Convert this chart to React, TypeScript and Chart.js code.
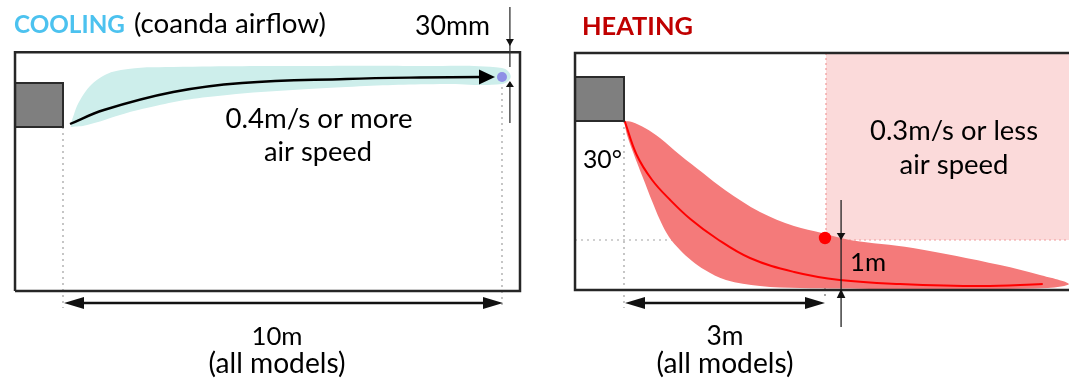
import React, { useEffect, useRef } from "react";
import { Chart, registerables } from "chart.js";

Chart.register(...registerables);

const W = 1069;
const H = 385;

// ---------------- data (metres) ----------------
// Cooling panel: x = distance from the unit outlet, y = height above floor
const coolingPlumeX = [0.18, 0.39, 0.77, 1.32, 2.51, 5.67, 8.02, 10.0, 10.2, 10.0, 8.59, 6.45, 3.3, 1.71, 0.55, 0.18];
const coolingPlumeY = [3.34, 3.8, 4.2, 4.4, 4.46, 4.48, 4.48, 4.44, 4.27, 4.12, 4.12, 4.06, 3.86, 3.6, 3.3, 3.26];
const coolingFlowX = [0.16, 0.93, 2.51, 4.08, 6.45, 8.13, 9.52];
const coolingFlowY = [3.32, 3.6, 3.96, 4.14, 4.22, 4.25, 4.26];
const coolingEndPoint = [{ x: 10.0, y: 4.26 }];
const coolingThrow = 10; // m

// Heating panel
const heatingPlumeX = [0, 0.119, 0.313, 0.537, 0.836, 1.179, 1.507, 2.03, 2.537, 2.955, 3.373, 4.313, 5.612, 6.209, 6.642, 6.328, 5.015, 3.821, 2.627, 2.03, 1.522, 1.209, 1.015, 0.836, 0.672, 0.537, 0.418, 0.284, 0.134, 0.045, 0];
const heatingPlumeY = [3.38, 3.36, 3.24, 3.04, 2.7, 2.34, 2.0, 1.56, 1.28, 1.14, 1.0, 0.84, 0.5, 0.3, 0.12, 0.04, 0.02, 0.02, 0.04, 0.08, 0.2, 0.4, 0.58, 0.8, 1.06, 1.4, 1.78, 2.24, 2.76, 3.1, 3.38];
const heatingFlowX = [0.01, 0.19, 0.42, 0.69, 0.99, 1.37, 1.88, 2.54, 3.22, 4.12, 5.33, 6.25];
const heatingFlowY = [3.38, 2.7, 2.2, 1.8, 1.42, 1.04, 0.64, 0.36, 0.2, 0.12, 0.08, 0.12];
const heatingLimitPoint = [{ x: 3.0, y: 1.04 }];
const heatingThrow = 3; // m
const heatingDrop = 1; // m

// ---------------- layout ----------------
const COOL_ORIGIN_PX = 63;
const COOL_PX_PER_M = 43.9;
const HEAT_ORIGIN_PX = 624;
const HEAT_PX_PER_M = 67;
const FLOOR_PX = 290;
const Y_PX_PER_M = 50;

const coolRoom = { x0: -1.093, x1: 10.41, y0: -0.02, y1: 4.754 };
const heatRoom = { x0: -0.731, x1: 7.5, y0: 0, y1: 4.74 };
const coolUnit = { x0: -1.093, x1: 0, y0: 3.26, y1: 4.14 };
const heatUnit = { x0: -0.731, x1: 0, y0: 3.38, y1: 4.26 };
const slowZone = { x0: 3.015, x1: 7.5, y0: 1.0, y1: 4.74 };

type Pt = { x: number; y: number };
const zip = (xs: number[], ys: number[]): Pt[] => xs.map((x, i) => ({ x, y: ys[i] }));
const rect = (r: { x0: number; x1: number; y0: number; y1: number }): Pt[] => [
  { x: r.x0, y: r.y0 },
  { x: r.x1, y: r.y0 },
  { x: r.x1, y: r.y1 },
  { x: r.x0, y: r.y1 },
  { x: r.x0, y: r.y0 },
];

const FONT = "Lato, 'Open Sans', sans-serif";

type Label = { text: string; x: number; y: number; w: number; align: CanvasTextAlign; bold?: boolean; color?: string };
const labels: Label[] = [
  { text: "COOLING", x: 14, y: 33, w: 111, align: "left", bold: true, color: "#4cc2ef" },
  { text: "(coanda airflow)", x: 134, y: 33, w: 192, align: "left" },
  { text: "30mm", x: 415, y: 35, w: 75, align: "left" },
  { text: "0.4m/s or more", x: 319, y: 128, w: 187, align: "center" },
  { text: "air speed", x: 318, y: 161, w: 108, align: "center" },
  { text: "10m", x: 277, y: 345, w: 51, align: "center" },
  { text: "(all models)", x: 277, y: 373, w: 137, align: "center" },
  { text: "HEATING", x: 582, y: 35, w: 111, align: "left", bold: true, color: "#c00000" },
  { text: "30°", x: 583, y: 168, w: 39, align: "left" },
  { text: "0.3m/s or less", x: 954, y: 140, w: 168, align: "center" },
  { text: "air speed", x: 954, y: 174, w: 109, align: "center" },
  { text: "1m", x: 850, y: 271, w: 36, align: "left" },
  { text: "3m", x: 725, y: 345, w: 37, align: "center" },
  { text: "(all models)", x: 725, y: 373, w: 137, align: "center" },
];

function head(ctx: CanvasRenderingContext2D, tx: number, ty: number, ux: number, uy: number, len: number, hw: number, color: string) {
  const bx = tx - ux * len;
  const by = ty - uy * len;
  ctx.beginPath();
  ctx.moveTo(tx, ty);
  ctx.lineTo(bx - uy * hw, by + ux * hw);
  ctx.lineTo(bx + uy * hw, by - ux * hw);
  ctx.closePath();
  ctx.fillStyle = color;
  ctx.fill();
}

function seg(ctx: CanvasRenderingContext2D, x1: number, y1: number, x2: number, y2: number, w: number, color: string) {
  ctx.beginPath();
  ctx.moveTo(x1, y1);
  ctx.lineTo(x2, y2);
  ctx.lineWidth = w;
  ctx.strokeStyle = color;
  ctx.setLineDash([]);
  ctx.stroke();
}

const overlay = {
  id: "overlay",
  afterDatasetsDraw(chart: any) {
    const ctx: CanvasRenderingContext2D = chart.ctx;
    const xc = chart.scales.xc;
    const xh = chart.scales.xh;
    const y = chart.scales.y;
    ctx.save();

    // cooling flow arrow head
    const cEnd = coolingFlowX.length - 1;
    head(ctx, xc.getPixelForValue(9.84), y.getPixelForValue(coolingFlowY[cEnd]), 1, 0, 16, 7.5, "#000");

    // 30mm marker
    const mx = xc.getPixelForValue(10.18);
    seg(ctx, mx, y.getPixelForValue(5.66), mx, y.getPixelForValue(4.46), 1.3, "#333");
    head(ctx, mx, y.getPixelForValue(4.88), 0, 1, 7, 4, "#111");
    seg(ctx, mx, y.getPixelForValue(4.16), mx, y.getPixelForValue(3.34), 1.3, "#333");
    head(ctx, mx, y.getPixelForValue(4.18), 0, -1, 6, 4, "#111");

    // 10m dimension
    const dy = y.getPixelForValue(-0.26);
    const c0 = xc.getPixelForValue(0) + 1;
    const c1 = xc.getPixelForValue(coolingThrow) + 1;
    seg(ctx, c0 + 10, dy, c1 - 10, dy, 2.6, "#111");
    head(ctx, c0, dy, -1, 0, 20, 6, "#111");
    head(ctx, c1, dy, 1, 0, 20, 6, "#111");

    // 3m dimension
    const h0 = xh.getPixelForValue(0) + 1;
    const h1 = xh.getPixelForValue(heatingThrow);
    seg(ctx, h0 + 10, dy, h1 - 10, dy, 2.6, "#111");
    head(ctx, h0, dy, -1, 0, 20, 6, "#111");
    head(ctx, h1, dy, 1, 0, 20, 6, "#111");

    // 1m drop marker
    const vx = xh.getPixelForValue(3.24);
    seg(ctx, vx, y.getPixelForValue(1.8), vx, y.getPixelForValue(-0.74), 1.3, "#222");
    head(ctx, vx, y.getPixelForValue(heatingDrop), 0, 1, 7, 4.3, "#111");
    head(ctx, vx, y.getPixelForValue(0.02), 0, -1, 9, 4.3, "#111");

    // texts
    ctx.textBaseline = "alphabetic";
    for (const l of labels) {
      const weight = l.bold ? "bold" : "normal";
      ctx.font = `${weight} 100px ${FONT}`;
      const mw = ctx.measureText(l.text).width;
      const size = (100 * l.w) / mw;
      ctx.font = `${weight} ${size.toFixed(2)}px ${FONT}`;
      ctx.textAlign = l.align;
      ctx.fillStyle = l.color || "#000";
      ctx.fillText(l.text, l.x, l.y);
    }
    ctx.restore();
  },
};

const GUIDE = "rgba(150,150,150,0.9)";

export default function App() {
  const ref = useRef<HTMLCanvasElement | null>(null);

  useEffect(() => {
    document.body.style.margin = "0";
    if (!ref.current) return;

    const line = (data: Pt[], axis: string, opts: any) => ({
      type: "line",
      data,
      xAxisID: axis,
      yAxisID: "y",
      showLine: true,
      pointRadius: 0,
      borderWidth: 0,
      fill: false,
      tension: 0,
      ...opts,
    });

    const layers: any[] = [
      // bottom
      line(rect(slowZone), "xh", { fill: "shape", backgroundColor: "#fbdada", borderColor: "rgba(0,0,0,0)" }),
      line(
        [
          { x: slowZone.x0, y: slowZone.y1 },
          { x: slowZone.x0, y: slowZone.y0 },
          { x: slowZone.x1, y: slowZone.y0 },
        ],
        "xh",
        { borderColor: "#f19a9a", borderWidth: 1.2, borderDash: [2, 3] }
      ),
      line([{ x: 0, y: coolUnit.y0 }, { x: 0, y: -0.36 }], "xc", { borderColor: GUIDE, borderWidth: 1.2, borderDash: [2, 4] }),
      line([{ x: coolingThrow, y: 4.06 }, { x: coolingThrow, y: -0.36 }], "xc", { borderColor: GUIDE, borderWidth: 1.2, borderDash: [2, 4] }),
      line([{ x: 0, y: heatUnit.y0 }, { x: 0, y: -0.36 }], "xh", { borderColor: GUIDE, borderWidth: 1.2, borderDash: [2, 4] }),
      line([{ x: heatRoom.x0, y: heatingDrop }, { x: heatingThrow, y: heatingDrop }], "xh", { borderColor: GUIDE, borderWidth: 1.2, borderDash: [2, 4] }),
      line([{ x: heatingThrow, y: heatingDrop }, { x: heatingThrow, y: -0.16 }], "xh", { borderColor: "rgba(90,90,90,0.9)", borderWidth: 1.2, borderDash: [2, 4] }),
      line(zip(coolingPlumeX, coolingPlumeY), "xc", { fill: "shape", backgroundColor: "#cdeeeb", borderColor: "rgba(0,0,0,0)", tension: 0.4 }),
      line(zip(heatingPlumeX, heatingPlumeY), "xh", { fill: "shape", backgroundColor: "#f47a7a", borderColor: "rgba(0,0,0,0)", tension: 0.35 }),
      line(zip(coolingFlowX, coolingFlowY), "xc", { borderColor: "#000", borderWidth: 2.4, tension: 0.4 }),
      line(zip(heatingFlowX, heatingFlowY), "xh", { borderColor: "#ff0000", borderWidth: 2, tension: 0.4 }),
      line(rect(coolUnit), "xc", { fill: "shape", backgroundColor: "#7f7f7f", borderColor: "#2b2b2b", borderWidth: 2 }),
      line(rect(heatUnit), "xh", { fill: "shape", backgroundColor: "#7f7f7f", borderColor: "#2b2b2b", borderWidth: 2 }),
      line(rect(coolRoom), "xc", { borderColor: "#262626", borderWidth: 2.5 }),
      line(
        [
          { x: heatRoom.x1, y: heatRoom.y1 },
          { x: heatRoom.x0, y: heatRoom.y1 },
          { x: heatRoom.x0, y: heatRoom.y0 },
          { x: heatRoom.x1, y: heatRoom.y0 },
        ],
        "xh",
        { borderColor: "#262626", borderWidth: 2.5 }
      ),
      line(coolingEndPoint, "xc", { showLine: false, pointRadius: 5, pointBackgroundColor: "#8f8fe6", pointBorderWidth: 0 }),
      line(heatingLimitPoint, "xh", { showLine: false, pointRadius: 6.2, pointBackgroundColor: "#ff0000", pointBorderWidth: 0 }),
      // top
    ];
    const n = layers.length;
    layers.forEach((d, i) => (d.order = n - i));

    const chart = new Chart(ref.current, {
      type: "scatter",
      data: { datasets: layers },
      options: {
        animation: false,
        responsive: false,
        devicePixelRatio: 1,
        layout: { padding: 0, autoPadding: false },
        plugins: { legend: { display: false }, tooltip: { enabled: false } },
        events: [],
        scales: {
          xc: {
            type: "linear",
            axis: "x",
            display: false,
            min: -COOL_ORIGIN_PX / COOL_PX_PER_M,
            max: (W - COOL_ORIGIN_PX) / COOL_PX_PER_M,
          },
          xh: {
            type: "linear",
            axis: "x",
            display: false,
            min: -HEAT_ORIGIN_PX / HEAT_PX_PER_M,
            max: (W - HEAT_ORIGIN_PX) / HEAT_PX_PER_M,
          },
          y: {
            type: "linear",
            axis: "y",
            display: false,
            min: -(H - FLOOR_PX) / Y_PX_PER_M,
            max: FLOOR_PX / Y_PX_PER_M,
          },
        },
      } as any,
      plugins: [overlay as any],
    });
    return () => chart.destroy();
  }, []);

  return (
    <div style={{ position: "absolute", left: 0, top: 0, width: W, height: H, background: "#fff" }}>
      <canvas ref={ref} width={W} height={H} style={{ display: "block", width: W, height: H }} />
    </div>
  );
}
